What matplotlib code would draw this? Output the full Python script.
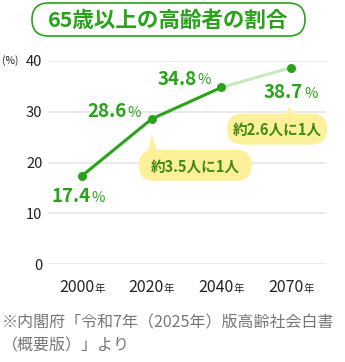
import matplotlib
matplotlib.use("Agg")
import matplotlib.pyplot as plt
from matplotlib.patches import FancyBboxPatch, Polygon
from matplotlib.transforms import IdentityTransform

plt.rcParams['font.family'] = ['Noto Sans CJK JP', 'DejaVu Sans']

# ---- data ----
years = ["2000", "2020", "2040", "2070"]
values = [17.4, 28.6, 34.8, 38.7]
yticks = [0, 10, 20, 30, 40]
title = "65歳以上の高齢者の割合"
callouts = ["約3.5人に1人", "約2.6人に1人"]
source_lines = ["※内閣府「令和7年（2025年）版高齢社会白書", "（概要版）」より"]

GREEN = "#2aa21b"
LIGHT = "#c9e8c0"
YELLOW = "#fdf09b"
CALL_TXT = "#3f8a12"
GRID = "#e6e6e6"
GRAY = "#777777"

W, H = 345, 362
fig = plt.figure(figsize=(W / 100, H / 100), dpi=100)
fig.patch.set_facecolor("white")

def fx(px):
    return px / W

def fy(py):
    return 1 - py / H

# axes: left 48px -> right 326px, top 61px -> bottom 264px
ax = fig.add_axes([fx(48), fy(264), (326 - 48) / W, (264 - 61) / H])
ax.set_xlim(-0.49, 3.5)
ax.set_ylim(0, 40)
for s in ax.spines.values():
    s.set_visible(False)
ax.set_yticks(yticks)
ax.set_yticklabels([str(t) for t in yticks], fontsize=10.6, color="#222222")
ax.tick_params(axis="y", length=0, pad=4)
ax.set_xticks([])
for t in yticks:
    ax.axhline(t, color=GRID, lw=1.2, zorder=0)

x = list(range(len(years)))
ax.plot(x[:3], values[:3], color=GREEN, lw=2.2, zorder=3, solid_capstyle="round")
ax.plot(x[2:], values[2:], color=LIGHT, lw=2.2, zorder=2, solid_capstyle="round")
ax.scatter(x, values, s=42, color=GREEN, zorder=4, clip_on=False, linewidths=0)

ax.annotate("(%)", xy=(0, 1), xycoords="axes fraction", xytext=(-46, 0),
            textcoords="offset pixels", ha="left", va="center", fontsize=7.5,
            color="#222222")

offs = [(8, -21), (-25, 7), (-25, 8), (12, -25)]
for i, (v, (dx, dy)) in enumerate(zip(values, offs)):
    ax.annotate(f"{v:.1f}", xy=(i, v), xytext=(dx, dy), textcoords="offset pixels",
                ha="right", va="center", fontsize=13.5, fontweight="bold",
                color=GREEN, annotation_clip=False)
    ax.annotate("%", xy=(i, v), xytext=(dx + 1, dy - 1), textcoords="offset pixels",
                ha="left", va="center", fontsize=10.5, color=GREEN,
                annotation_clip=False)

for i, yr in enumerate(years):
    ax.annotate(yr, xy=(i, 0), xycoords=("data", "axes fraction"), xytext=(12, -24),
                textcoords="offset pixels", ha="right", va="center", fontsize=11.5,
                color="#222222", annotation_clip=False)
    ax.annotate("年", xy=(i, 0), xycoords=("data", "axes fraction"), xytext=(12, -25),
                textcoords="offset pixels", ha="left", va="center", fontsize=7.5,
                color="#222222", annotation_clip=False)

fig.canvas.draw()
def disp(i, v):
    return ax.transData.transform((i, v))

def callout(text, anchor, box, tip_dy, base_half, base_dx=0):
    px, py = anchor
    x0, x1 = px + box[0], px + box[2]
    ytop, ybot = py + box[1], py + box[3]
    h = ytop - ybot
    patch = FancyBboxPatch((x0, ybot), x1 - x0, h,
                           boxstyle=f"round,pad=0,rounding_size={h / 2}",
                           transform=IdentityTransform(), facecolor=YELLOW,
                           edgecolor="none", zorder=5)
    fig.patches.append(patch)
    tipx = px + base_dx
    tri = Polygon([(tipx, py + tip_dy), (tipx - base_half, ytop - 3),
                   (tipx + base_half + 2, ytop - 3)], closed=True,
                  transform=IdentityTransform(), facecolor=YELLOW,
                  edgecolor="none", zorder=5)
    fig.patches.append(tri)
    fig.text(fx((x0 + x1) / 2), ((ytop + ybot) / 2 - 1) / H, text,
             ha="center", va="center", fontsize=10.5, fontweight="bold",
             color=CALL_TXT, zorder=6)

p2020 = disp(1, values[1])
p2070 = disp(3, values[3])
callout(callouts[0], p2020, (-13, -31, 100, -62), -15, 4)
callout(callouts[1], p2070, (-64, -46, 36, -77), -39, 4, -2)

tb = FancyBboxPatch((32, H - 36), 273, 33,
                    boxstyle="round,pad=0,rounding_size=16.5",
                    transform=IdentityTransform(), facecolor="white",
                    edgecolor=GREEN, lw=1.2, zorder=5)
fig.patches.append(tb)
fig.text(fx(168), fy(20), title, ha="center", va="center", fontsize=15.5,
         fontweight="bold", color=GREEN, zorder=7)

fig.text(fx(2), fy(323), source_lines[0], ha="left", va="center", fontsize=11.5,
         color=GRAY)
fig.text(fx(2), fy(346), source_lines[1], ha="left", va="center", fontsize=11.5,
         color=GRAY)

fig.savefig("out.png", dpi=100, facecolor="white")
